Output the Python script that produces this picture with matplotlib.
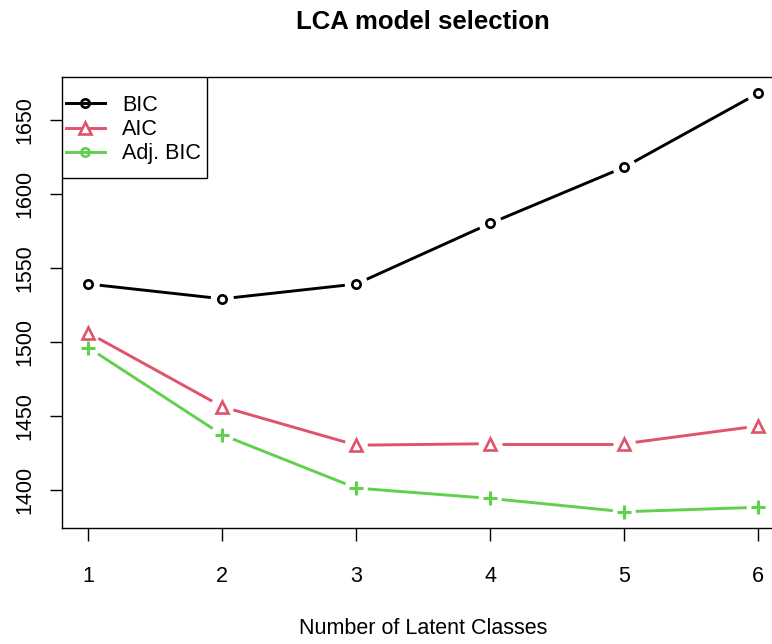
import matplotlib
matplotlib.use("Agg")
import numpy as np
import matplotlib.pyplot as plt
from matplotlib.lines import Line2D
from matplotlib.patches import Rectangle

classes = [1, 2, 3, 4, 5, 6]
bic = [1539, 1529, 1539, 1580, 1618, 1668]
aic = [1506, 1456, 1430, 1431, 1431, 1443]
adj_bic = [1496, 1437, 1401, 1394, 1385, 1388]
yticks = [1400, 1450, 1500, 1550, 1600, 1650]
series_names = ["BIC", "AIC", "Adj. BIC"]

plt.rcParams['font.family'] = ['Liberation Sans', 'DejaVu Sans']

W, H = 772, 644
fig = plt.figure(figsize=(W / 100, H / 100), dpi=100)
left, right, top, bottom = 61.5, 785, 77, 528
ax = fig.add_axes([left / W, (H - bottom) / H, (right - left) / W, (bottom - top) / H])

black = "#000000"
red = "#DF536B"
green = "#61D04F"
LW = 2.1
GAP = 11.5  # pixels of gap around each point (R type="b")

ax.set_xlim(0.8, 6.2)
ax.set_ylim(1374, 1679)

def draw(y, color, marker, ms, mew):
    pts = ax.transData.transform(np.column_stack([classes, y]))
    inv = ax.transData.inverted()
    for p0, p1 in zip(pts[:-1], pts[1:]):
        d = p1 - p0
        L = np.hypot(*d)
        if L <= 2 * GAP:
            continue
        u = d / L
        a = inv.transform(p0 + u * GAP)
        b = inv.transform(p1 - u * GAP)
        ax.plot([a[0], b[0]], [a[1], b[1]], color=color, lw=LW, zorder=2,
                solid_capstyle='butt')
    ax.plot(classes, y, linestyle='none', marker=marker, ms=ms, mfc='none',
            mec=color, mew=mew, zorder=4)

draw(bic, black, 'o', 6, 1.9)
draw(aic, red, '^', 9, 1.9)
draw(adj_bic, green, '+', 10.5, 2.2)

ax.set_xticks(classes)
ax.set_yticks(yticks)
ax.tick_params(axis='both', direction='out', length=9, width=1, labelsize=15.5)
ax.tick_params(axis='x', pad=18)
ax.tick_params(axis='y', pad=10)
for lab in ax.get_yticklabels():
    lab.set_rotation(90)
    lab.set_va('center')
for s in ax.spines.values():
    s.set_linewidth(1.0)

ax.set_xlabel("Number of Latent Classes", fontsize=15.5, labelpad=23)
fig.text(422.5 / W, 1 - 22 / H, "LCA model selection", ha='center', va='center',
         fontsize=18.5, fontweight='bold')

handles = [
    Line2D([], [], color=black, lw=LW, marker='o', ms=6, mfc='none', mec=black, mew=1.9),
    Line2D([], [], color=red, lw=LW, marker='^', ms=9, mfc='white', mec=red, mew=1.9),
    Line2D([], [], color=green, lw=LW, marker='o', ms=6, mfc='none', mec=green, mew=1.9),
]
ax_h = bottom - top
ax_w = right - left
leg = ax.legend(handles, series_names, loc='upper left',
                bbox_to_anchor=((66 - left) / ax_w, (bottom - 95) / ax_h),
                fontsize=15.5, frameon=False, borderaxespad=0,
                handlelength=1.8, handletextpad=0.8, labelspacing=0.15,
                borderpad=0)
frame = Rectangle((0, (bottom - 178) / ax_h), (207 - left) / ax_w, (178 - top) / ax_h,
                  transform=ax.transAxes, facecolor='white', edgecolor='black',
                  linewidth=1.0, zorder=5)
ax.add_patch(frame)
leg.set_zorder(6)

fig.savefig("out.png", dpi=100, facecolor='white')
